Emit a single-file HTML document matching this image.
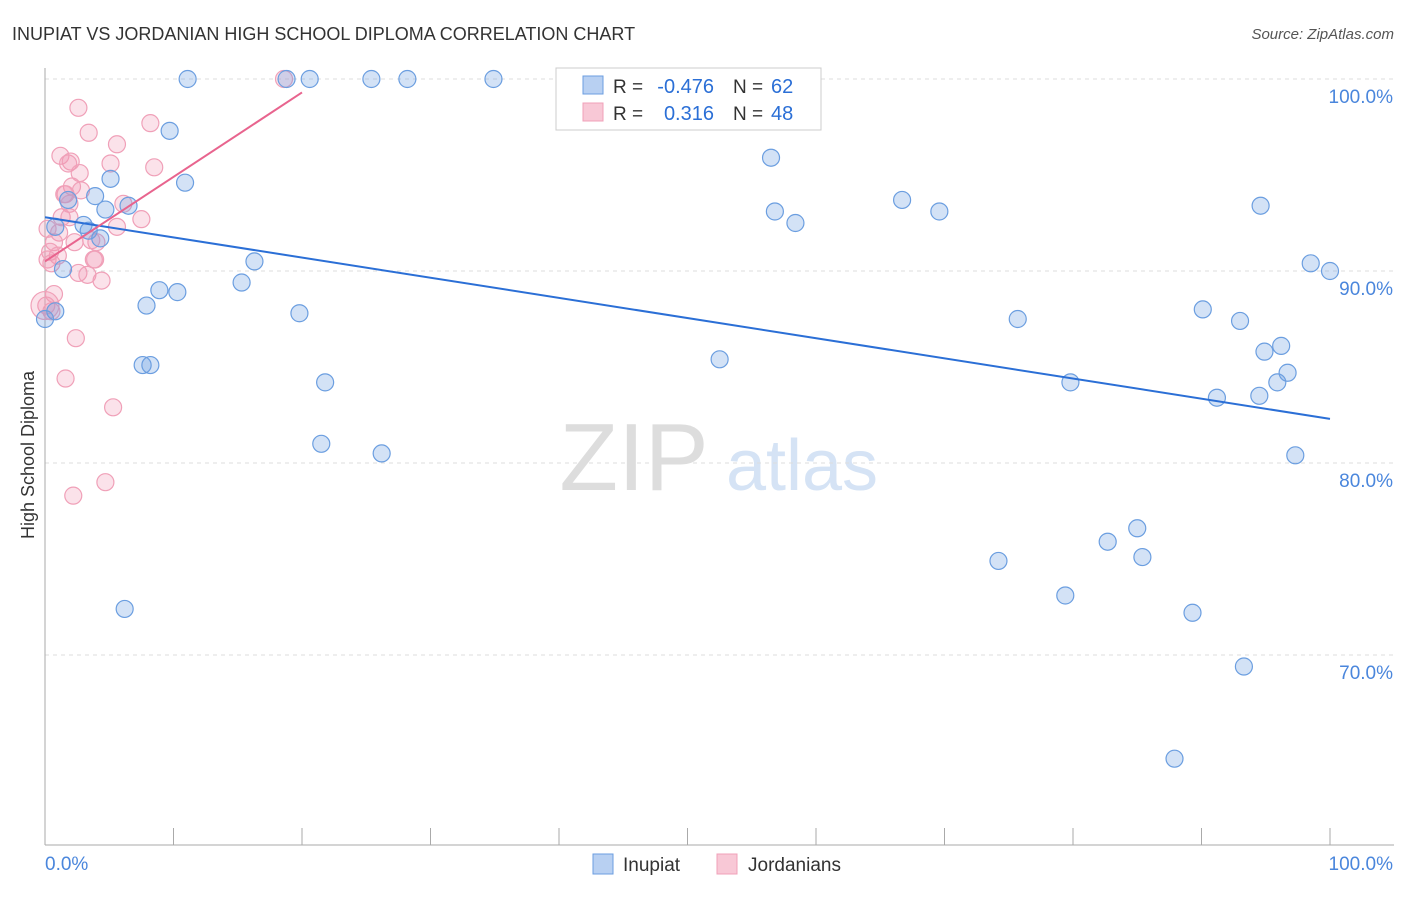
<!DOCTYPE html>
<html><head><meta charset="utf-8"><style>
body{margin:0;background:#fff;font-family:"Liberation Sans",sans-serif;}
svg text{font-family:"Liberation Sans",sans-serif;}
</style></head><body>
<svg id="chart" width="1406" height="892" xmlns="http://www.w3.org/2000/svg">
<text x="12" y="40" font-size="18" fill="#333">INUPIAT VS JORDANIAN HIGH SCHOOL DIPLOMA CORRELATION CHART</text>
<text x="1394" y="39" font-size="15" fill="#555" text-anchor="end" font-style="italic">Source: ZipAtlas.com</text>
<g>
<text x="634" y="490" font-size="96" fill="#ddd" text-anchor="middle" font-family="Liberation Serif">ZIP</text>
<text x="802" y="490" font-size="72" fill="#d5e3f5" text-anchor="middle">atlas</text>
</g>
<g id="grid"></g>
<g id="axes"></g>
<g id="pts"></g>
<text x="34" y="455" font-size="18" fill="#333" text-anchor="middle" transform="rotate(-90 34 455)">High School Diploma</text>
<g>
<rect x="556" y="68" width="265" height="62" fill="#fff" stroke="#ccc"/>
<rect x="583" y="76" width="20" height="18" fill="#b8d0f2" stroke="#6b9ee0"/>
<rect x="583" y="103" width="20" height="18" fill="#f8c8d6" stroke="#f0a0b8"/>
<text x="613" y="93" font-size="19" fill="#333">R =</text>
<text x="714" y="93" font-size="20" fill="#2b6fd6" text-anchor="end">-0.476</text>
<text x="733" y="93" font-size="19" fill="#333">N =</text>
<text x="771" y="93" font-size="20" fill="#2b6fd6">62</text>
<text x="613" y="120" font-size="19" fill="#333">R =</text>
<text x="714" y="120" font-size="20" fill="#2b6fd6" text-anchor="end">0.316</text>
<text x="733" y="120" font-size="19" fill="#333">N =</text>
<text x="771" y="120" font-size="20" fill="#2b6fd6">48</text>
</g>
<g>
<rect x="593" y="854" width="20" height="20" fill="#b8d0f2" stroke="#6b9ee0"/>
<text x="623" y="871" font-size="19" fill="#333">Inupiat</text>
<rect x="717" y="854" width="20" height="20" fill="#f8c8d6" stroke="#f0a0b8"/>
<text x="748" y="871" font-size="19" fill="#333">Jordanians</text>
</g>
</svg>
<script>
const yTicks=[100,90,80,70];
const xTickLabels=["0.0%","100.0%"];
const inupiatX=[11.1,18.8,20.6,25.4,28.2,34.9,47.2,9.7,10.9,5.1,3.9,1.8,4.7,6.5,0.8,3.0,3.4,4.3,1.4,16.3,15.3,8.9,10.3,7.9,19.8,0,0.8,7.6,8.2,21.8,21.5,26.2,6.2,56.5,56.8,58.4,66.7,69.6,52.5,75.7,79.8,90.1,93.0,94.9,96.2,96.7,95.9,91.2,94.5,97.3,94.6,98.5,100,74.2,82.7,85.0,85.4,79.4,89.3,93.3,87.9];
const inupiatY=[100,100,100,100,100,100,100,97.3,94.6,94.8,93.9,93.7,93.2,93.4,92.3,92.4,92.1,91.7,90.1,90.5,89.4,89.0,88.9,88.2,87.8,87.5,87.9,85.1,85.1,84.2,81.0,80.5,72.4,95.9,93.1,92.5,93.7,93.1,85.4,87.5,84.2,88.0,87.4,85.8,86.1,84.7,84.2,83.4,83.5,80.4,93.4,90.4,90.0,74.9,75.9,76.6,75.1,73.1,72.2,69.4,64.6];
const jordanX=[18.6,2.6,3.4,8.2,5.6,1.2,2.0,1.8,5.1,8.5,2.7,2.1,2.8,1.6,1.5,6.1,1.9,1.3,1.9,7.5,5.6,0.2,1.1,0.7,2.3,4.0,3.6,0.4,1.0,0.2,3.8,3.9,0.5,2.6,3.3,4.4,0.7,0.1,0.5,2.4,1.6,5.3,4.7,2.2,0];
const jordanY=[100,98.5,97.2,97.7,96.6,96.0,95.7,95.6,95.6,95.4,95.1,94.4,94.2,94.0,94.0,93.5,93.5,92.8,92.8,92.7,92.3,92.2,92.0,91.5,91.5,91.5,91.6,91.0,90.8,90.6,90.6,90.6,90.4,89.9,89.8,89.5,88.8,88.2,87.9,86.5,84.4,82.9,79.0,78.3,88.2];
const X=v=>45+v*12.85, Y=v=>79+(100-v)*19.2;
const ns="http://www.w3.org/2000/svg";
const mk=(t,a,p)=>{const e=document.createElementNS(ns,t);for(const k in a)e.setAttribute(k,a[k]);p.appendChild(e);return e;};
const grid=document.getElementById('grid'),axes=document.getElementById('axes'),pts=document.getElementById('pts');
yTicks.forEach(t=>{
 const l=mk('line',{x1:45,x2:1394,y1:Y(t),y2:Y(t),stroke:'#ddd','stroke-dasharray':'4,4'},grid);
 
 
 const tx=mk('text',{x:1393,y:Y(t)+24,'font-size':19,fill:'#4a86dc','text-anchor':'end'},axes);
 tx.textContent=t.toFixed(1)+'%';
 
 
});
mk('line',{x1:45,x2:45,y1:68,y2:845,stroke:'#aaa'},axes);
mk('line',{x1:45,x2:1394,y1:845,y2:845,stroke:'#aaa'},axes);
for(let i=0;i<=10;i++){mk('line',{x1:X(i*10),x2:X(i*10),y1:828,y2:845,stroke:'#aaa'},axes);}
const xl=mk('text',{x:45,y:870,'font-size':19,fill:'#4a86dc'},axes);xl.textContent=xTickLabels[0];


const xr=mk('text',{x:1393,y:870,'font-size':19,fill:'#4a86dc','text-anchor':'end'},axes);xr.textContent=xTickLabels[1];


jordanX.forEach((x,i)=>{const c=mk('circle',{cx:X(x),cy:Y(jordanY[i]),r:i==jordanX.length-1?14:8.5,fill:'rgba(240,150,180,0.28)',stroke:'#f0a0b8','stroke-width':1.2},pts);
 
 });
inupiatX.forEach((x,i)=>{const c=mk('circle',{cx:X(x),cy:Y(inupiatY[i]),r:8.5,fill:'rgba(110,160,225,0.3)',stroke:'#6b9ee0','stroke-width':1.2},pts);
 
 });
const bl=mk('line',{x1:X(0),y1:Y(92.8),x2:X(100),y2:Y(82.3),stroke:'#2b6fd6','stroke-width':2},pts);


const pl=mk('line',{x1:X(0),y1:Y(90.5),x2:X(20),y2:Y(99.3),stroke:'#e8648e','stroke-width':2},pts);


</script>
</body></html>
